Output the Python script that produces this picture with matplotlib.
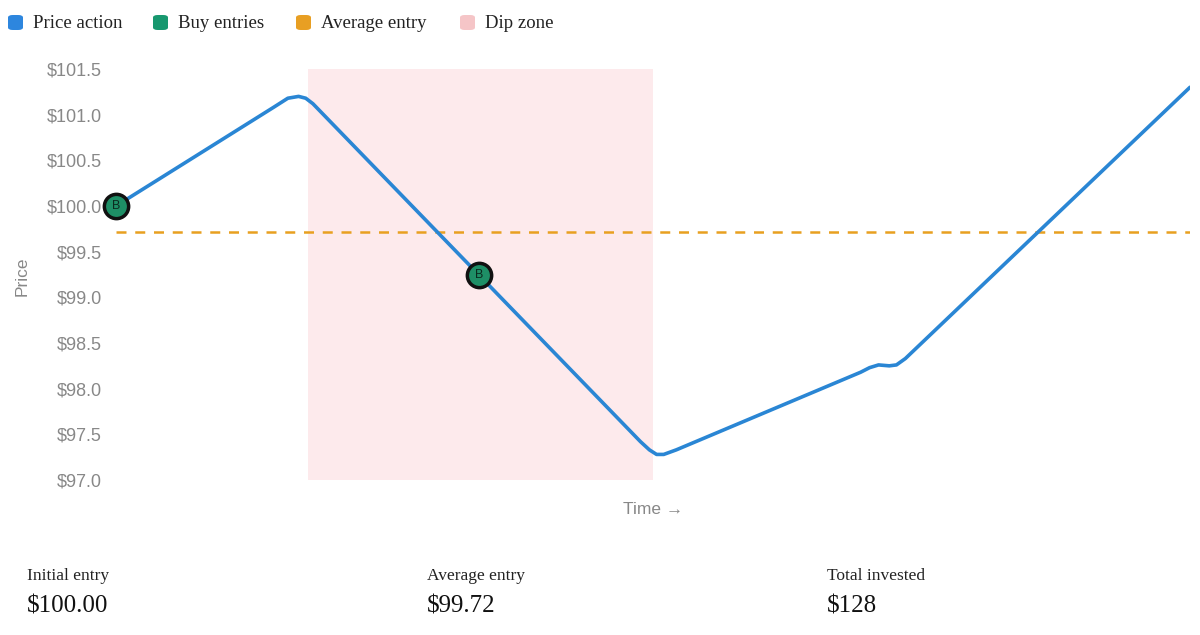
import matplotlib
matplotlib.use("Agg")
from matplotlib import pyplot as plt
from matplotlib.patches import FancyBboxPatch

# price path (time steps, price)
time = [0, 8.8, 9.6, 10.2, 10.6, 11.0, 20.3, 29.3, 29.8, 30.2, 30.6, 31.3,
        41.6, 42.1, 42.6, 43.2, 43.6, 44.1, 60]
price = [100.0, 101.08, 101.18, 101.2, 101.18, 101.12, 99.24, 97.42, 97.33,
         97.28, 97.28, 97.33, 98.18, 98.23, 98.26, 98.25, 98.26, 98.33, 101.3]

buy_time = [0, 20.3]
buy_price = [100.0, 99.24]

avg_entry = 99.72
dip_start, dip_end = 10.7, 30.0

stat_labels = ["Initial entry", "Average entry", "Total invested"]
stat_values = ["$100.00", "$99.72", "$128"]

legend_labels = ["Price action", "Buy entries", "Average entry", "Dip zone"]
legend_colors = ["#2d86de", "#17986f", "#e89f23", "#f5c5c7"]

W, H = 1200, 635
fig = plt.figure(figsize=(12, 6.35), dpi=100)
ax = fig.add_axes([116 / W, 1 - 480 / H, (1190 - 116) / W, 411 / H])

ax.axvspan(dip_start, dip_end, color="#fdeaec", zorder=0, lw=0)
ax.axhline(avg_entry, color="#e8a020", lw=1.8, ls=(0, (4, 3.5)), zorder=2)
ax.plot(time, price, color="#2a86d4", lw=2.6, solid_joinstyle="round",
        solid_capstyle="round", zorder=3)
ax.plot(buy_time, buy_price, "o", ms=17.5, mfc="#1e8f66", mec="#111111",
        mew=2.5, zorder=5, clip_on=False)
for t, p in zip(buy_time, buy_price):
    ax.text(t, p, "B", ha="center", va="center", fontsize=9,
            color="#0b2b1f", family="Liberation Sans", zorder=6)

ax.set_xlim(0, 60)
ax.set_ylim(97.0, 101.5)
ax.set_yticks([97.0 + 0.5 * i for i in range(10)])
ax.set_yticklabels(["${:.1f}".format(97.0 + 0.5 * i) for i in range(10)])
ax.set_xticks([])
ax.tick_params(axis="y", length=0, pad=10, labelsize=13, labelcolor="#888888")
for lab in ax.get_yticklabels():
    lab.set_family("Liberation Sans")
for s in ax.spines.values():
    s.set_visible(False)

ax.set_xlabel("Time \u2192", color="#888888", fontsize=12.5, labelpad=16)
ax.xaxis.label.set_family(["Liberation Sans", "DejaVu Sans"])
fig.text(22 / W, 1 - 276 / H, "Price", rotation=90, ha="center", va="center",
         color="#888888", fontsize=12.5, family="Liberation Sans")

# legend row
legend_x = [8, 153, 296, 460]
for x, lab, col in zip(legend_x, legend_labels, legend_colors):
    fig.patches.append(FancyBboxPatch((x / W, 1 - 30 / H), 15 / W, 15 / H,
                                      boxstyle="round,pad=0,rounding_size=0.004",
                                      transform=fig.transFigure, fc=col, ec="none"))
    fig.text((x + 25) / W, 1 - 23 / H, lab, ha="left", va="center",
             fontsize=13.5, family="Liberation Serif", color="#222222")

# stats row
for i, (lab, val) in enumerate(zip(stat_labels, stat_values)):
    x = (27 + 400 * i) / W
    fig.text(x, 1 - 576 / H, lab, ha="left", va="center", fontsize=12.5,
             family="Liberation Serif", color="#222222")
    fig.text(x, 1 - 606 / H, val, ha="left", va="center", fontsize=18,
             family="Liberation Serif", color="#111111")

plt.savefig("out.png", dpi=100)
